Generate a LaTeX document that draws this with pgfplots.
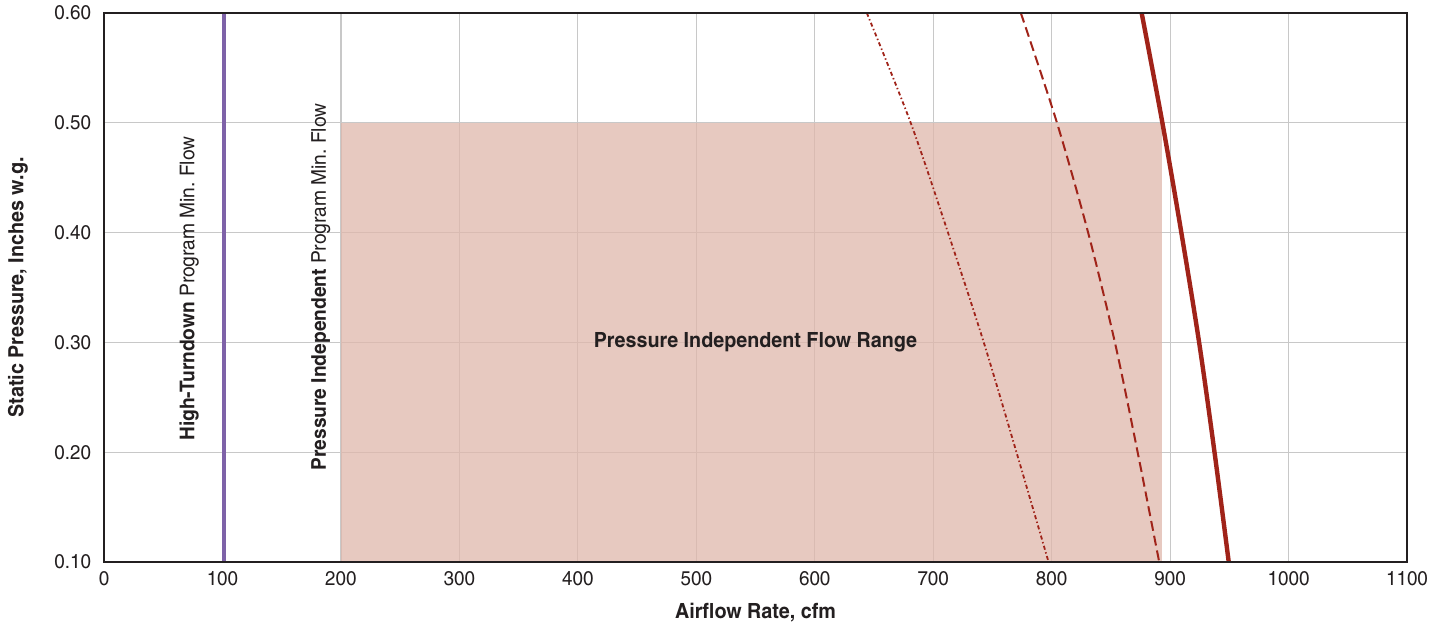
\documentclass[border=0pt]{standalone}
\usepackage{fontspec}
\setmainfont{texgyreheroscn}[Extension=.otf, UprightFont=*-regular, BoldFont=*-bold, FakeStretch=1.15]
\usepackage{pgfplots}
\pgfplotsset{compat=1.18}
\definecolor{gridgray}{RGB}{200,200,200}
\definecolor{fillpink}{RGB}{223,183,171}
\definecolor{curvered}{RGB}{160,35,25}
\definecolor{linepurple}{RGB}{126,98,168}
\definecolor{txt}{RGB}{35,31,32}
\begin{document}
\begin{tikzpicture}
\begin{axis}[name=ax, scale only axis, width=651.5bp, height=274.5bp,
  xmin=0, xmax=1100, ymin=0.1, ymax=0.6,
  xtick={0,100,200,300,400,500,600,700,800,900,1000,1100},
  ytick={0.1,0.2,0.3,0.4,0.5,0.6},
  /pgf/number format/assume math mode=true,
  xticklabel style={yshift=-1bp, /pgf/number format/1000 sep={}},
  yticklabel style={xshift=-3bp, /pgf/number format/fixed, /pgf/number format/fixed zerofill, /pgf/number format/precision=2},
  ticklabel style={font=\fontsize{10}{12}\selectfont, text=txt},
  grid=major, major grid style={color=gridgray, line width=0.6bp},
  axis line style={line width=1.3bp, color=txt},
  tick style={draw=none},
  xlabel={\bfseries Airflow Rate, cfm},
  ylabel={\bfseries Static Pressure, Inches w.g.},
  xlabel style={yshift=-2bp},
  ylabel style={at={(axis description cs:-0.066,0.5)}, anchor=center},
  label style={font=\fontsize{10.5}{12}\selectfont, text=txt},
]
\addplot[draw=none, fill=fillpink, fill opacity=0.75] coordinates {(200,0.1) (200,0.5) (893,0.5) (893,0.1)} -- cycle;
\addplot[linepurple, line width=2bp] coordinates {(101,0.1) (101,0.6)};
\addplot[curvered, line width=2.2bp, smooth] coordinates {
  (876,0.6) (893.5,0.5) (909.5,0.4) (924.5,0.3) (937.5,0.2) (949.5,0.1)};
\addplot[curvered, line width=1bp, smooth, dash pattern=on 5bp off 2.5bp] coordinates {
  (774,0.6) (804.5,0.5) (830.8,0.4) (853.4,0.3) (872.6,0.2) (890.8,0.1)};
\addplot[curvered, line width=0.9bp, smooth, dash pattern=on 2bp off 1.3bp on 0.7bp off 1.3bp] coordinates {
  (644,0.6) (681,0.5) (712.5,0.4) (742.7,0.3) (770.3,0.2) (797.4,0.1)};
\draw[line width=1.3bp, color=txt] (rel axis cs:0,0) rectangle (rel axis cs:1,1);
\node[font=\fontsize{10.5}{12}\selectfont\bfseries, text=txt] at (axis cs:550,0.3) {Pressure Independent Flow Range};
\node[rotate=90, anchor=west, inner sep=0pt, font=\fontsize{10.2}{12}\selectfont, text=txt] at (axis cs:72,0.21) {\textbf{High-Turndown} Program Min.\ Flow};
\node[rotate=90, anchor=west, inner sep=0pt, font=\fontsize{10.2}{12}\selectfont, text=txt] at (axis cs:183,0.183) {\textbf{Pressure Independent} Program Min.\ Flow};
\end{axis}
\pgfresetboundingbox
\path ([xshift=-52bp,yshift=-32bp]ax.south west) rectangle ([xshift=20bp,yshift=6.5bp]ax.north east);
\end{tikzpicture}
\end{document}
